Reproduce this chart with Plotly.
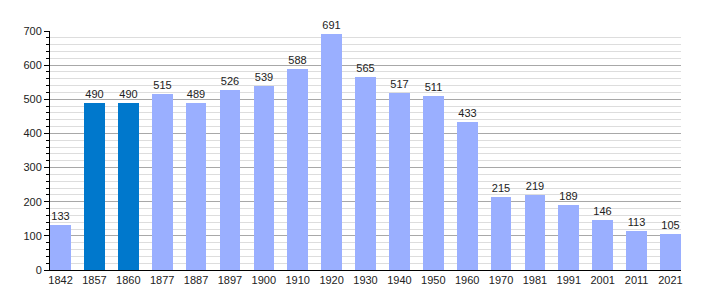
import plotly.graph_objects as go

years = ["1842", "1857", "1860", "1877", "1887", "1897", "1900", "1910", "1920", "1930",
         "1940", "1950", "1960", "1970", "1981", "1991", "2001", "2011", "2021"]
population = [133, 490, 490, 515, 489, 526, 539, 588, 691, 565,
              517, 511, 433, 215, 219, 189, 146, 113, 105]
highlighted = ["1857", "1860"]

light = "#9aafff"
dark = "#0078cc"
colors = [dark if y in highlighted else light for y in years]
xpos = list(range(len(years)))

fig = go.Figure()
fig.add_trace(go.Bar(
    x=xpos, y=population, width=0.61,
    marker=dict(color=colors, line=dict(width=0)),
    text=[str(v) for v in population], textposition="outside",
    textfont=dict(size=11, color="#222"), cliponaxis=False,
))

fig.update_layout(
    width=710, height=300,
    margin=dict(l=50, r=29, t=31, b=30),
    paper_bgcolor="white", plot_bgcolor="white",
    font=dict(family="Liberation Sans, Arial, sans-serif", size=11, color="#222"),
    showlegend=False,
    bargap=0,
)
fig.update_xaxes(
    range=[-0.31, len(years) - 1 + 0.31],
    tickvals=xpos, ticktext=years,
    showgrid=False, zeroline=False,
    showline=True, linecolor="black", linewidth=1,
    ticks="", tickfont=dict(size=11, color="#222"),
)
fig.update_yaxes(
    range=[0, 700], dtick=100,
    showgrid=True, gridcolor="#a8a8a8", gridwidth=1,
    zeroline=False,
    showline=True, linecolor="black", linewidth=1,
    ticks="outside", ticklen=5, tickcolor="black",
    tickfont=dict(size=11, color="#222"),
    minor=dict(dtick=20, showgrid=True, gridcolor="#dddddd", gridwidth=1,
               ticks="outside", ticklen=3, tickcolor="black"),
)

fig.write_html("out.html")
